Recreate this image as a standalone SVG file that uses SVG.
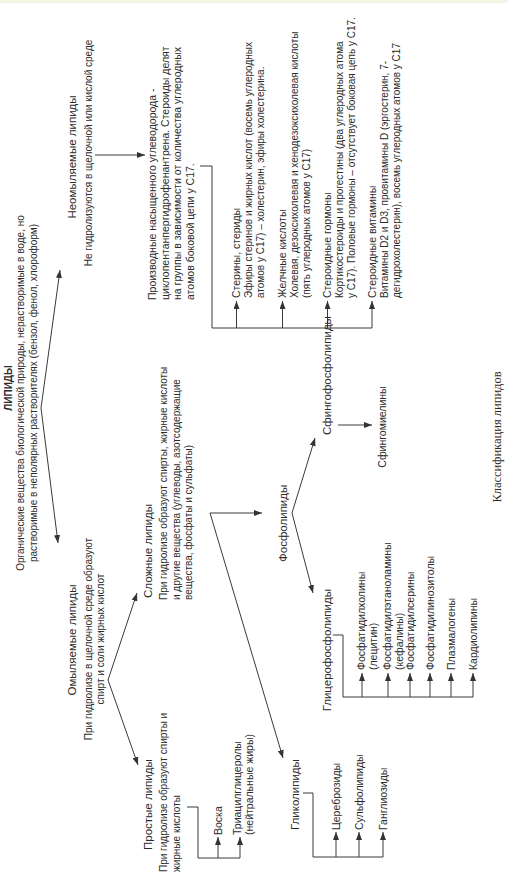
<svg xmlns="http://www.w3.org/2000/svg" width="508" height="875" viewBox="0 0 508 875">
<defs>
<marker id="ah" viewBox="0 0 8 6" refX="8" refY="3" markerWidth="8" markerHeight="6" markerUnits="userSpaceOnUse" orient="auto"><path d="M0,0 L8,3 L0,6 z" fill="#333"/></marker>
<style>
text{font-family:"Liberation Sans",Arial,sans-serif;fill:#2b2b2b}
.h{font-size:11.5px}
.b{font-size:10px}
.s{font-size:10.5px}
.i{font-size:10.5px}
.m{text-anchor:middle}
.e{text-anchor:end}
.c{fill:none;stroke:#3a3a3a;stroke-width:1}
.a{marker-end:url(#ah)}
.cap{font-family:"Liberation Serif","Times New Roman",serif;font-size:12.5px}
</style>
</defs>
<rect width="508" height="875" fill="#ffffff"/>
<rect width="508" height="3" fill="#f6f4e4"/>
<g transform="translate(0,875) rotate(-90)">
 <g id="connectors">
  <path class="c a" d="M467,41 L605,60"/>
  <path class="c a" d="M467,41 L332,58"/>
  <path class="c a" d="M720,95 L720,145"/>
  <path class="c a" d="M709,200 L709,212 L547,212 L547,372 L574,372"/>
  <path class="c a" d="M547,236.5 L574,236.5"/>
  <path class="c a" d="M547,282.5 L574,282.5"/>
  <path class="c a" d="M547,327.5 L574,327.5"/>
  <path class="c a" d="M195,108 L282,137"/>
  <path class="c a" d="M195,108 L110,138"/>
  <path class="c a" d="M68,187 L68,198 L17,198 L17,240 L38,240"/>
  <path class="c a" d="M17,218 L38,218"/>
  <path class="c a" d="M362,210 L362,262"/>
  <path class="c a" d="M362,210 L117,283"/>
  <path class="c a" d="M362,292 L437,315"/>
  <path class="c a" d="M362,292 L282,313"/>
  <path class="c a" d="M450,338 L450,372"/>
  <path class="c a" d="M240,333 L240,343 L178,343 L178,473 L202,473"/>
  <path class="c a" d="M178,362 L202,362"/>
  <path class="c a" d="M178,388 L202,388"/>
  <path class="c a" d="M178,410 L202,410"/>
  <path class="c a" d="M178,430 L202,430"/>
  <path class="c a" d="M178,451 L202,451"/>
  <path class="c a" d="M82,303 L82,313 L18,313 L18,383 L43,383"/>
  <path class="c a" d="M18,336 L43,336"/>
  <path class="c a" d="M18,359 L43,359"/>
 </g>
 <g id="lipids">
  <text class="m" x="487" y="12" font-weight="bold" font-size="10px">ЛИПИДЫ</text>
  <text class="b m" x="482" y="24">Органические вещества биологической природы, нерастворимые в воде, но</text>
  <text class="b m" x="482" y="37">растворимые в неполярных растворителях (бензол, фенол, хлороформ)</text>
 </g>
 <g id="nonsaponifiable">
  <text class="h m" x="718" y="76">Неомыляемые липиды</text>
  <text class="b m" x="722" y="92">Не гидролизуются в щелочной или кислой среде</text>
 </g>
 <g id="steroids">
  <text class="s" x="575" y="156">Производные насыщенного углеводорода -</text>
  <text class="s" x="575" y="168.5">циклопентанпергидрофенантрена. Стероиды делят</text>
  <text class="s" x="575" y="181">на группы в зависимости от количества углеродных</text>
  <text class="s" x="575" y="193.5">атомов боковой цепи у С17.</text>
 </g>
 <g id="sterols">
  <text class="i" x="577" y="240">Стерины, стериды</text>
  <text class="b" x="577" y="252">Эфиры стеринов и жирных кислот (восемь углеродных</text>
  <text class="b" x="577" y="264">атомов у С17) – холестерин, эфиры холестерина.</text>
 </g>
 <g id="bile-acids">
  <text class="i" x="577" y="286">Желчные кислоты</text>
  <text class="b" x="577" y="298">Холевая, дезоксихолевая и хенодезоксихолевая кислоты</text>
  <text class="b" x="577" y="310">(пять углеродных атомов у С17)</text>
 </g>
 <g id="steroid-hormones">
  <text class="i" x="577" y="331">Стероидные гормоны</text>
  <text class="b" x="577" y="343">Кортикостероиды и прогестины (два углеродных атома</text>
  <text class="b" x="577" y="355">у С17). Половые гормоны – отсутствует боковая цепь у С17.</text>
 </g>
 <g id="steroid-vitamins">
  <text class="i" x="577" y="376">Стероидные витамины</text>
  <text class="b" x="577" y="388">Витамины D2 и D3, провитамины D (эргостерин, 7-</text>
  <text class="b" x="577" y="400">дегидрохолестерин), восемь углеродных атомов у С17</text>
 </g>
 <g id="saponifiable">
  <text class="h m" x="235" y="76">Омыляемые липиды</text>
  <text class="b m" x="236" y="92">При гидролизе в щелочной среде образуют</text>
  <text class="b m" x="236" y="104">спирт и соли жирных кислот</text>
 </g>
 <g id="simple">
  <text class="h" x="25" y="152">Простые липиды</text>
  <text class="b" x="3" y="167">При гидролизе образуют спирты и</text>
  <text class="b" x="3" y="179.5">жирные кислоты</text>
 </g>
 <g id="waxes">
  <text class="i" x="40" y="222">Воска</text>
 </g>
 <g id="triacylglycerols">
  <text class="i" x="40" y="241">Триацилглицеролы</text>
  <text class="i" x="40" y="253">(нейтральные жиры)</text>
 </g>
 <g id="complex">
  <text class="h" x="277" y="152">Сложные липиды</text>
  <text class="b" x="275" y="167">При гидролизе образуют спирты, жирные кислоты</text>
  <text class="b" x="275" y="179.5">и другие вещества (углеводы, азотсодержащие</text>
  <text class="b" x="275" y="192">вещества, фосфаты и сульфаты)</text>
 </g>
 <g id="phospholipids">
  <text class="h" x="313" y="287">Фосфолипиды</text>
 </g>
 <g id="sphingophospholipids">
  <text class="h" x="440" y="331">Сфингофосфолипиды</text>
 </g>
 <g id="sphingomyelins">
  <text class="i m" x="448" y="386">Сфингомиелины</text>
 </g>
 <g id="glycerophospholipids">
  <text class="h e" x="286" y="331">Глицерофосфолипиды</text>
 </g>
 <g id="phosphatidylcholines">
  <text class="i" x="205" y="365">Фосфатидилхолины</text>
  <text class="i" x="205" y="377">(лецитин)</text>
 </g>
 <g id="phosphatidylethanolamines">
  <text class="i" x="205" y="391">Фосфатидилэтаноламины</text>
  <text class="i" x="205" y="403">(кефалины)</text>
 </g>
 <g id="phosphatidylserines">
  <text class="i" x="205" y="413.5">Фосфатидилсерины</text>
 </g>
 <g id="phosphatidylinositols">
  <text class="i" x="205" y="433.5">Фосфатидилинозитолы</text>
 </g>
 <g id="plasmalogens">
  <text class="i" x="205" y="454.5">Плазмалогены</text>
 </g>
 <g id="cardiolipins">
  <text class="i" x="205" y="476.5">Кардиолипины</text>
 </g>
 <g id="glycolipids">
  <text class="h" x="45" y="299">Гликолипиды</text>
 </g>
 <g id="cerebrosides">
  <text class="i" x="45" y="340">Цереброзиды</text>
 </g>
 <g id="sulfolipids">
  <text class="i" x="45" y="363">Сульфолипиды</text>
 </g>
 <g id="gangliosides">
  <text class="i" x="45" y="387">Ганглиозиды</text>
 </g>
 <g id="caption">
  <text class="cap m" x="438" y="501">Классификация липидов</text>
 </g>
</g>
</svg>
